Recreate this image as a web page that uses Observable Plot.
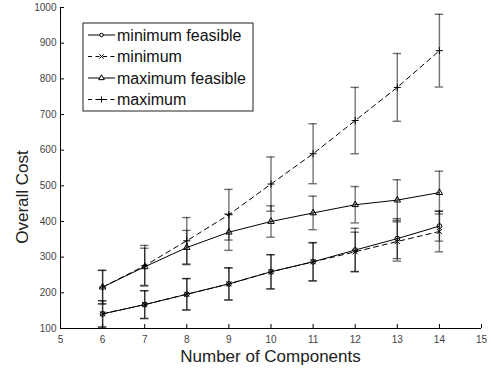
<!DOCTYPE html>
<html>
<head>
<meta charset="utf-8">
<script src="https://cdn.jsdelivr.net/npm/d3@7"></script>
<script src="https://cdn.jsdelivr.net/npm/@observablehq/plot@0.6"></script>
<style>
  html, body { margin: 0; padding: 0; background: #fff; }
  #chart { position: relative; width: 491px; height: 368px; }
  svg { font-family: "Liberation Sans", Arial, Helvetica, sans-serif; }
</style>
</head>
<body>
<div id="chart"></div>
<script>
// ---- data ----
const components = [6, 7, 8, 9, 10, 11, 12, 13, 14];
const minFeasible    = [141, 167, 196, 225, 259, 287, 320, 352, 387];
const minFeasibleErr = [37, 39, 44, 45, 48, 53, 61, 56, 42];
const minimum        = [141, 167, 196, 225, 259, 287, 315, 344, 372];
const minimumErr     = [37, 39, 44, 45, 48, 54, 55, 55, 57];
const maxFeasible    = [216, 273, 327, 370, 400, 424, 447, 460, 481];
const maxFeasibleErr = [47, 52, 48, 51, 44, 47, 51, 57, 60];
const maximum        = [216, 276, 346, 419, 505, 590, 683, 776, 879];
const maximumErr     = [47, 57, 65, 71, 76, 84, 93, 95, 102];

const seriesNames = ["minimum feasible", "minimum", "maximum feasible", "maximum"];
const xTicks = [5, 6, 7, 8, 9, 10, 11, 12, 13, 14, 15];
const yTicks = [100, 200, 300, 400, 500, 600, 700, 800, 900, 1000];
const xLabel = "Number of Components";
const yLabel = "Overall Cost";

// ---- styles ----
const styles = [
  {dash: null,  symbol: "circle"},
  {dash: "5,4", symbol: "times"},
  {dash: null,  symbol: "triangle"},
  {dash: "5,4", symbol: "plus"}
];
const seriesValues = [minFeasible, minimum, maxFeasible, maximum];
const seriesErrs = [minFeasibleErr, minimumErr, maxFeasibleErr, maximumErr];

const series = seriesNames.map((name, i) => ({
  name, ...styles[i],
  data: components.map((c, j) => ({x: c, y: seriesValues[i][j], e: seriesErrs[i][j]}))
}));

const W = 491, H = 368;
const mL = 60, mR = 10, mT = 7, mB = 40;
const capHalf = 0.1;

const marks = [];
// error bars
for (const s of series) {
  const barStyle = {stroke: "black", strokeOpacity: 0.55, strokeWidth: 1.4};
  marks.push(Plot.ruleX(s.data, {x: "x", y1: d => d.y - d.e, y2: d => d.y + d.e, ...barStyle}));
  marks.push(Plot.ruleY(s.data, {y: d => d.y + d.e, x1: d => d.x - capHalf, x2: d => d.x + capHalf, ...barStyle}));
  marks.push(Plot.ruleY(s.data, {y: d => d.y - d.e, x1: d => d.x - capHalf, x2: d => d.x + capHalf, ...barStyle}));
}
// lines and markers
for (const s of series) {
  marks.push(Plot.line(s.data, {x: "x", y: "y", stroke: "black", strokeWidth: 1, strokeDasharray: s.dash}));
  marks.push(Plot.dot(s.data, {x: "x", y: "y", symbol: s.symbol, r: 2.4, stroke: "black", strokeWidth: 1, fill: "none"}));
}
// axes
marks.push(Plot.ruleX([5], {stroke: "black", strokeWidth: 1}));
marks.push(Plot.ruleY([100], {stroke: "black", strokeWidth: 1}));
marks.push(Plot.tickX(xTicks, {x: d => d, insetTop: (H - mT - mB) - 4, stroke: "black"}));
marks.push(Plot.tickY(yTicks, {y: d => d, insetRight: (W - mL - mR) - 4, stroke: "black"}));
marks.push(Plot.axisX(xTicks, {tickSize: 0, tickPadding: 7, fontSize: 10, color: "#444", label: null, tickFormat: d => String(d)}));
marks.push(Plot.axisY(yTicks, {tickSize: 0, tickPadding: 4, fontSize: 10, color: "#444", label: null, tickFormat: d => String(d)}));

const chart = Plot.plot({
  width: W, height: H,
  marginLeft: mL, marginRight: mR, marginTop: mT, marginBottom: mB,
  x: {domain: [5, 15]},
  y: {domain: [100, 1000]},
  style: {fontFamily: '"Liberation Sans", Arial, Helvetica, sans-serif', background: "white"},
  marks
});

const svg = d3.select(chart);
// axis titles
svg.append("text")
  .attr("x", (mL + W - mR) / 2).attr("y", 362)
  .attr("text-anchor", "middle").attr("font-size", 17).attr("fill", "#222")
  .text(xLabel);
svg.append("text")
  .attr("transform", `translate(28, 197) rotate(-90)`)
  .attr("text-anchor", "middle").attr("font-size", 17).attr("fill", "#222")
  .text(yLabel);

// legend
const lg = svg.append("g").attr("text-anchor", "start");
const bx = 83, by = 23, bw = 170, bh = 88;
lg.append("rect").attr("x", bx).attr("y", by).attr("width", bw).attr("height", bh)
  .attr("fill", "white").attr("stroke", "#222").attr("stroke-width", 1);
const rowY = [35, 56.5, 78, 99.5];
const symMap = {circle: d3.symbolCircle, times: d3.symbolTimes, triangle: d3.symbolTriangle, plus: d3.symbolPlus};
series.forEach((s, i) => {
  const y = rowY[i];
  lg.append("line").attr("x1", 88).attr("x2", 115).attr("y1", y).attr("y2", y)
    .attr("stroke", "black").attr("stroke-width", 1)
    .attr("stroke-dasharray", s.dash ? "4,3.5" : null);
  lg.append("path").attr("transform", `translate(101.5,${y})`)
    .attr("d", d3.symbol(symMap[s.symbol], s.symbol === "circle" ? 10 : 14)())
    .attr("fill", s.dash ? "none" : "white").attr("stroke", "black").attr("stroke-width", 1);
  lg.append("text").attr("x", 117).attr("y", y).attr("dy", "0.35em")
    .attr("text-anchor", "start")
    .attr("font-size", 16).attr("fill", "#111").text(s.name);
});

document.getElementById("chart").appendChild(chart);
</script>
</body>
</html>
